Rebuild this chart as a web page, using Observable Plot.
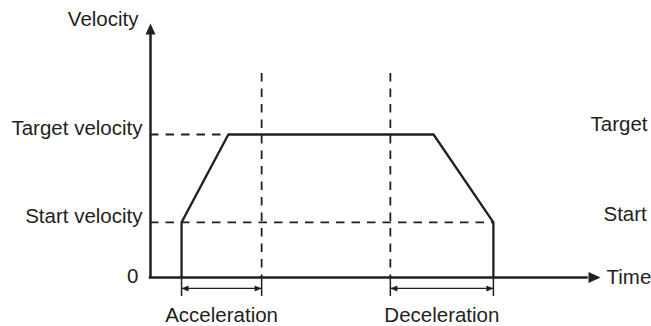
<!DOCTYPE html>
<html><head><meta charset="utf-8">
<script src="https://cdn.jsdelivr.net/npm/d3@7"></script>
<script src="https://cdn.jsdelivr.net/npm/@observablehq/plot@0.6"></script>
<style>html,body{margin:0;padding:0;background:#fff;overflow:hidden}</style>
</head><body><div id="chart"></div>
<script>
const ink = "#231f20";
// Velocity levels (y units: 0 at the time axis, 100 at the velocity arrow tip)
const levelLabels = ["0", "Start velocity", "Target velocity"];
const levelValues = [0, 21.7, 56.3];
// Trapezoidal velocity profile (x units: 0 at the velocity axis, 100 at the time arrow tip)
const profileTime = [6.9, 6.9, 17.3, 62.9, 76.2, 76.2];
const profileVelocity = [0, 21.7, 56.3, 56.3, 21.7, 0];
// Phases
const phaseLabels = ["Acceleration", "Deceleration"];
const phaseStart = [6.9, 53.3];
const phaseEnd = [24.7, 76.2];
const axisLabels = ["Velocity", "Time"];
const strayLabels = ["Target", "Start"]; // edge of the neighbouring figure
// annotation extents
const boundaryTop = 80.3, tickBottom = -7.5, spanRow = -4.3;

const levels = levelLabels.map((label, i) => ({label, v: levelValues[i]}));
const profile = profileTime.map((t, i) => ({t, v: profileVelocity[i]}));
const phases = phaseLabels.map((label, i) => ({label, s: phaseStart[i], e: phaseEnd[i], m: (phaseStart[i] + phaseEnd[i]) / 2}));

const headUp = {draw(c){c.moveTo(0,0);c.lineTo(5,11);c.lineTo(-5,11);c.closePath();}};
const headRight = {draw(c){c.moveTo(0,0);c.lineTo(-12,-5.5);c.lineTo(-12,5.5);c.closePath();}};
const smallLeft = {draw(c){c.moveTo(0,0);c.lineTo(7,-3);c.lineTo(7,3);c.closePath();}};
const smallRight = {draw(c){c.moveTo(0,0);c.lineTo(-7,-3);c.lineTo(-7,3);c.closePath();}};

const font = {fontSize: 20.5, fill: ink};
const dash = {stroke: ink, strokeWidth: 1.8, strokeDasharray: "8.5,7"};

const chart = Plot.plot({
  width: 651, height: 326,
  marginLeft: 150, marginRight: 51, marginTop: 23, marginBottom: 49,
  x: {domain: [0, 100], axis: null},
  y: {domain: [0, 100], axis: null},
  style: {fontFamily: "'Liberation Sans', Arial, Helvetica, sans-serif", background: "white", overflow: "visible"},
  marks: [
    // dashed guides
    Plot.ruleY([levels[2]], {y: "v", x1: 0, x2: profileTime[2], ...dash}),
    Plot.ruleY([levels[1]], {y: "v", x1: 0, x2: profileTime[5], ...dash}),
    Plot.ruleX([phaseEnd[0], phaseStart[1]], {x: d => d, y1: boundaryTop, y2: 0, ...dash}),
    // ticks below the time axis
    Plot.ruleX([...phaseStart, ...phaseEnd], {x: d => d, y1: 0, y2: tickBottom, stroke: ink, strokeWidth: 1.5}),
    // span arrows
    Plot.ruleY(phases, {y: () => spanRow, x1: "s", x2: "e", stroke: ink, strokeWidth: 1.2}),
    Plot.dot(phases, {x: "s", y: () => spanRow, symbol: smallLeft, fill: ink, stroke: null, r: 3}),
    Plot.dot(phases, {x: "e", y: () => spanRow, symbol: smallRight, fill: ink, stroke: null, r: 3}),
    // profile
    Plot.line(profile, {x: "t", y: "v", stroke: ink, strokeWidth: 2.3, strokeLinejoin: "miter"}),
    // axes
    Plot.ruleX([0], {y1: 0, y2: 96, stroke: ink, strokeWidth: 2.5, strokeLinecap: "square"}),
    Plot.ruleY([0], {x1: 0, x2: 97, stroke: ink, strokeWidth: 2.5, strokeLinecap: "square"}),
    Plot.dot([0], {x: 0, y: 100, symbol: headUp, fill: ink, stroke: null, r: 5}),
    Plot.dot([0], {x: 100, y: 0, symbol: headRight, fill: ink, stroke: null, r: 5}),
    // labels
    Plot.text(levels.slice(1), {x: 0, y: "v", text: "label", textAnchor: "end", dx: -8, lineAnchor: "bottom", dy: 1, ...font}),
    Plot.text(levels.slice(0, 1), {x: 0, y: "v", text: "label", textAnchor: "end", dx: -12, lineAnchor: "middle", dy: -1.5, ...font}),
    Plot.text([axisLabels[0]], {x: 0, y: 100, text: d => d, textAnchor: "end", dx: -12, lineAnchor: "bottom", dy: 2, ...font}),
    Plot.text([axisLabels[1]], {x: 100, y: 0, text: d => d, textAnchor: "start", dx: 6, lineAnchor: "middle", ...font}),
    Plot.text([strayLabels[0]], {x: 100, y: levelValues[2], text: d => d, textAnchor: "start", dx: -10, lineAnchor: "bottom", dy: -3, ...font}),
    Plot.text([strayLabels[1]], {x: 100, y: levelValues[1], text: d => d, textAnchor: "start", dx: 3, lineAnchor: "bottom", dy: -1, ...font}),
    Plot.text(phases, {x: "m", y: () => spanRow, text: "label", textAnchor: "middle", lineAnchor: "bottom", dy: 33.5, ...font})
  ]
});
document.getElementById("chart").appendChild(chart);
</script>
</body></html>
